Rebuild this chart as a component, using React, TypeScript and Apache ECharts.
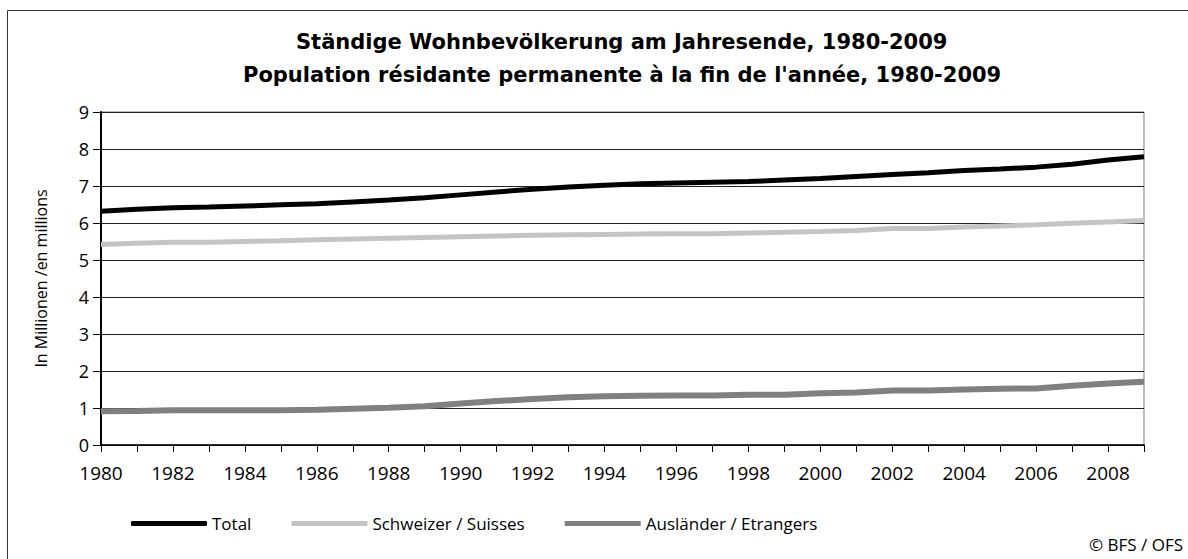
import React, { useEffect, useRef } from 'react';
import * as echarts from 'echarts';

const years = [
  '1980', '1981', '1982', '1983', '1984', '1985', '1986', '1987', '1988', '1989',
  '1990', '1991', '1992', '1993', '1994', '1995', '1996', '1997', '1998', '1999',
  '2000', '2001', '2002', '2003', '2004', '2005', '2006', '2007', '2008', '2009',
];

const total = [
  6.32, 6.37, 6.41, 6.43, 6.46, 6.49, 6.52, 6.57, 6.62, 6.68,
  6.76, 6.84, 6.91, 6.97, 7.02, 7.06, 7.08, 7.10, 7.12, 7.16,
  7.20, 7.26, 7.31, 7.36, 7.42, 7.46, 7.51, 7.59, 7.70, 7.79,
];

const schweizer = [
  5.42, 5.45, 5.48, 5.48, 5.50, 5.52, 5.55, 5.57, 5.59, 5.61,
  5.63, 5.65, 5.67, 5.68, 5.69, 5.70, 5.71, 5.71, 5.73, 5.75,
  5.77, 5.80, 5.85, 5.85, 5.89, 5.92, 5.95, 5.99, 6.03, 6.07,
];

const auslaender = [
  0.91, 0.92, 0.94, 0.94, 0.94, 0.94, 0.95, 0.98, 1.01, 1.05,
  1.12, 1.19, 1.24, 1.29, 1.32, 1.33, 1.34, 1.34, 1.36, 1.36,
  1.40, 1.42, 1.47, 1.47, 1.50, 1.52, 1.53, 1.60, 1.66, 1.71,
];

const titleLines = [
  'Ständige Wohnbevölkerung am Jahresende, 1980-2009',
  "Population résidante permanente à la fin de l'année, 1980-2009",
];

const seriesNames = ['Total', 'Schweizer / Suisses', 'Ausländer / Etrangers'];
const yAxisName = 'In Millionen /en millions';
const sourceText = '© BFS / OFS';

const FONT = '"Open Sans", "Noto Sans", sans-serif';
const TITLE_FONT = '"DejaVu Sans", "Open Sans", sans-serif';

export default function App() {
  const ref = useRef<HTMLDivElement>(null);

  useEffect(() => {
    if (!ref.current) return;
    const chart = echarts.init(ref.current, null, { renderer: 'svg' });
    const titleStyle = {
      fontFamily: TITLE_FONT,
      fontWeight: 'bold',
      fontSize: 21,
      color: '#000',
    };
    chart.setOption({
      animation: false,
      backgroundColor: '#ffffff',
      title: [
        { text: titleLines[0], left: 296, top: 31, padding: 0, textStyle: titleStyle },
        { text: titleLines[1], left: 243, top: 64, padding: 0, textStyle: titleStyle },
      ],
      grid: {
        left: 101,
        right: 44,
        top: 112,
        bottom: 114,
        show: true,
        borderColor: '#7a7a7a',
        borderWidth: 1,
        backgroundColor: 'transparent',
      },
      legend: {
        left: 126,
        top: 510,
        itemWidth: 76,
        itemHeight: 5,
        itemGap: 40,
        data: [
          { name: seriesNames[0], icon: 'roundRect' },
          { name: seriesNames[1], icon: 'rect' },
          { name: seriesNames[2], icon: 'rect' },
        ],
        textStyle: { fontFamily: FONT, fontSize: 17, color: '#000' },
      },
      xAxis: {
        type: 'category',
        data: years,
        boundaryGap: false,
        axisLine: { show: true, lineStyle: { color: '#000', width: 1.5 } },
        axisTick: { show: true, interval: 0, length: 7, lineStyle: { color: '#000', width: 1 } },
        axisLabel: { interval: 1, margin: 18, fontSize: 19, color: '#000', fontFamily: FONT },
        splitLine: { show: false },
      },
      yAxis: {
        type: 'value',
        min: 0,
        max: 9,
        interval: 1,
        name: yAxisName,
        nameLocation: 'middle',
        nameGap: 52,
        nameTextStyle: { fontFamily: FONT, fontSize: 16, color: '#000' },
        axisLine: { show: true, lineStyle: { color: '#000', width: 2 } },
        axisTick: { show: true, length: 8, lineStyle: { color: '#000', width: 1 } },
        axisLabel: { margin: 12, fontSize: 18, color: '#000', fontFamily: FONT },
        splitLine: { show: true, lineStyle: { color: '#222', width: 1 } },
      },
      series: [
        {
          name: seriesNames[0],
          type: 'line',
          data: total,
          symbol: 'none',
          showSymbol: false,
          lineStyle: { color: '#000', width: 5 },
          itemStyle: { color: '#000' },
          z: 3,
        },
        {
          name: seriesNames[1],
          type: 'line',
          data: schweizer,
          symbol: 'none',
          showSymbol: false,
          lineStyle: { color: '#c4c4c4', width: 5 },
          itemStyle: { color: '#c4c4c4' },
          z: 2,
        },
        {
          name: seriesNames[2],
          type: 'line',
          data: auslaender,
          symbol: 'none',
          showSymbol: false,
          lineStyle: { color: '#808080', width: 6 },
          itemStyle: { color: '#808080' },
          z: 2,
        },
      ],
      graphic: [
        {
          type: 'rect',
          silent: true,
          z: -10,
          shape: { x: 7.5, y: 10.5, width: 1200, height: 600 },
          style: { fill: 'none', stroke: '#333', lineWidth: 1 },
        },
        {
          type: 'text',
          right: 5,
          top: 536,
          style: { text: sourceText, font: '17px "Open Sans", sans-serif', fill: '#000' },
        },
      ],
    });
    return () => chart.dispose();
  }, []);

  return (
    <div
      ref={ref}
      style={{ position: 'fixed', left: 0, top: 0, width: 1188, height: 559, background: '#fff' }}
    />
  );
}
